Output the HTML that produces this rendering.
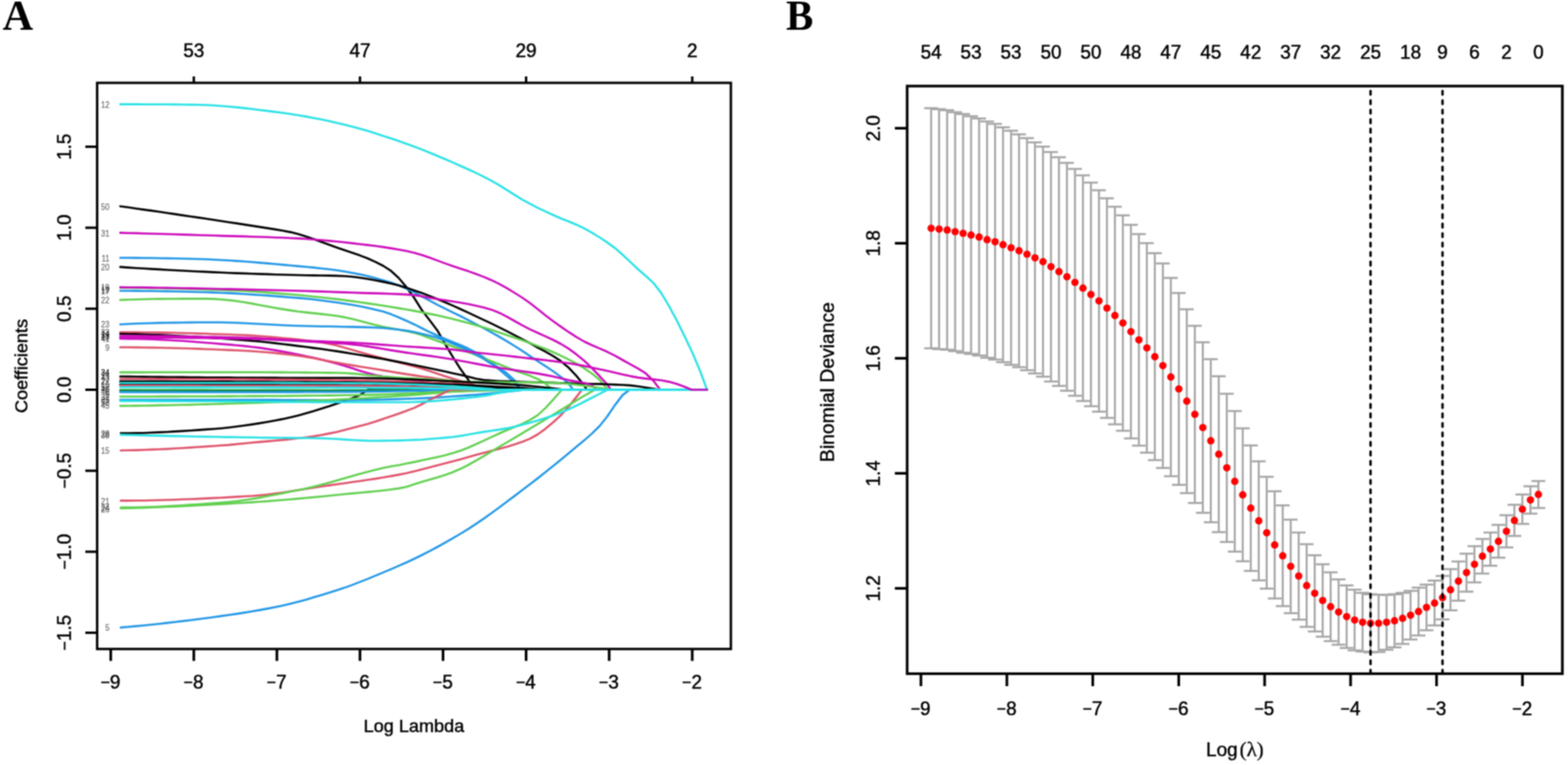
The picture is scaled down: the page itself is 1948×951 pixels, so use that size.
<!DOCTYPE html>
<html lang="en"><head><meta charset="utf-8"><title>LASSO coefficient profiles and cross-validation</title>
<style>html,body{margin:0;padding:0;background:#fff;}body{width:1948px;height:951px;overflow:hidden;}svg{display:block;}</style>
</head><body>
<svg width="1948" height="951" viewBox="0 0 1948 951">
<defs><filter id="soft" x="0" y="0" width="100%" height="100%" color-interpolation-filters="sRGB"><feConvolveMatrix order="3" kernelMatrix="1 2 1 2 4 2 1 2 1" edgeMode="duplicate"/></filter></defs>
<g filter="url(#soft)">
<rect width="1948" height="951" fill="#fff"/>
<text x="3.3" y="37.1" font-family="'Liberation Serif', serif" font-weight="bold" font-size="52.5" fill="#000">A</text>
<text transform="translate(976.6,36.6) scale(0.97,1)" font-family="'Liberation Serif', serif" font-weight="bold" font-size="52.5" fill="#000">B</text>
<defs><clipPath id="cA"><rect x="120.7" y="103" width="787.3" height="703.8"/></clipPath><clipPath id="cB"><rect x="1127" y="107" width="814" height="730.5"/></clipPath></defs>
<g clip-path="url(#cA)" fill="none" stroke-width="2.6" stroke-linejoin="round" stroke-linecap="round">
<path d="M150,538.6 L159.5,538.5 L169.1,538.4 L178.7,538.2 L188.3,537.8 L197.9,537.4 L207.5,537 L217,536.4 L226.6,535.9 L236.2,535.3 L245.8,534.6 L255.4,533.9 L265,533.3 L274.6,532.5 L284.2,531.5 L293.8,530.3 L303.4,529 L313,527.6 L322.6,526.1 L332.2,524.5 L341.8,522.7 L351.4,520.9 L361,518.8 L370.6,516.4 L380.2,513.8 L389.8,511 L399.3,508.1 L408.9,505.1 L418.5,501.8 L428.1,498.3 L437.7,494.9 L447.3,491.1 L456.9,484.6 L457,484.5 L878.4,484.5" stroke="#000000"/>
<path d="M149.4,256.4 L149.9,256.5 L159.5,257.8 L169.1,259.2 L178.7,260.6 L188.3,261.9 L197.9,263.3 L207.5,264.7 L217,266.1 L226.6,267.6 L236.2,269 L245.8,270.4 L255.4,271.8 L265,273.3 L274.6,274.7 L284.2,276.2 L293.8,277.6 L303.4,279.1 L313,280.6 L322.6,282.1 L332.2,283.6 L341.8,285.1 L351.4,286.7 L361,288.6 L370.6,291 L380.2,294 L389.8,297.2 L399.3,300.7 L408.9,304.3 L418.5,307.8 L428.1,311.1 L437.7,314.3 L447.3,317.6 L456.9,321.3 L466.5,325.6 L476.1,330.5 L485.7,336.7 L495.3,345.5 L504.9,356.9 L514.5,370.3 L524.1,385.5 L533.7,398 L543.3,410.7 L552.9,427.5 L562.5,443.6 L572.1,458.8 L581.7,472 L590,484.5 L878.4,484.5" stroke="#000000"/>
<path d="M149.4,289.4 L149.9,289.4 L159.5,289.7 L169.1,289.9 L178.7,290.2 L188.3,290.5 L197.9,290.8 L207.5,291 L217,291.3 L226.6,291.6 L236.2,291.9 L245.8,292.2 L255.4,292.5 L265,292.8 L274.6,293.1 L284.2,293.4 L293.8,293.6 L303.4,293.9 L313,294.2 L322.6,294.5 L332.2,294.8 L341.8,295.2 L351.4,295.5 L361,296 L370.6,296.4 L380.2,297 L389.8,297.7 L399.3,298.5 L408.9,299.4 L418.5,300.3 L428.1,301.3 L437.7,302.4 L447.3,303.5 L456.9,304.6 L466.5,305.8 L476.1,307.1 L485.7,308.6 L495.3,310.2 L504.9,312 L514.5,314.2 L524.1,317.1 L533.7,320.3 L543.3,323.9 L552.9,327.4 L562.5,330.8 L572.1,334 L581.7,337.1 L591.2,340.5 L600.8,344.1 L610.4,348.2 L620,352.9 L629.6,358.2 L639.2,364 L648.8,370 L658.4,376.7 L668,384.2 L677.6,391.9 L687.2,399.3 L696.8,406.1 L706.4,412.7 L716,418.9 L725.6,424.5 L735.2,429 L744.8,433.1 L754.4,437.3 L764,442.1 L773.5,447.5 L783.1,452.9 L792.7,458.1 L802.3,464.2 L811.9,473.5 L820.2,484.5 L878.4,484.5" stroke="#CD0BBC"/>
<path d="M149.4,320.5 L149.9,320.5 L159.5,320.5 L169.1,320.6 L178.7,320.7 L188.3,320.8 L197.9,321 L207.5,321.1 L217,321.3 L226.6,321.5 L236.2,321.8 L245.8,322 L255.4,322.3 L265,322.7 L274.6,323.2 L284.2,323.7 L293.8,324.4 L303.4,325 L313,325.8 L322.6,326.6 L332.2,327.4 L341.8,328.3 L351.4,329.1 L361,330 L370.6,330.9 L380.2,331.7 L389.8,332.6 L399.3,333.7 L408.9,334.8 L418.5,336 L428.1,337.5 L437.7,339.2 L447.3,341.1 L456.9,343.3 L466.5,345.8 L476.1,348.4 L485.7,351.2 L495.3,354.7 L504.9,358.8 L514.5,363.3 L524.1,368.5 L533.7,373.7 L543.3,378.8 L552.9,383.6 L562.5,388.3 L572.1,393 L581.7,397.8 L591.2,402.8 L600.8,407.9 L610.4,413.1 L620,418.5 L629.6,424.1 L639.2,430 L648.8,436.2 L658.4,442.6 L668,449 L677.6,455.1 L687.2,461.5 L696.8,468.5 L706.4,476.8 L712,484.5 L878.4,484.5" stroke="#2297E6"/>
<path d="M149.4,331.9 L149.9,331.9 L159.5,332.6 L169.1,333.2 L178.7,333.8 L188.3,334.4 L197.9,334.9 L207.5,335.5 L217,336 L226.6,336.5 L236.2,337 L245.8,337.5 L255.4,337.9 L265,338.4 L274.6,338.8 L284.2,339.2 L293.8,339.6 L303.4,339.9 L313,340.3 L322.6,340.6 L332.2,340.9 L341.8,341.2 L351.4,341.5 L361,341.8 L370.6,342 L380.2,342.2 L389.8,342.4 L399.3,342.5 L408.9,342.6 L418.5,342.9 L428.1,343.2 L437.7,344 L447.3,345.2 L456.9,346.7 L466.5,348.5 L476.1,350.4 L485.7,352.4 L495.3,354.7 L504.9,357.7 L514.5,360.9 L524.1,364.2 L533.7,367.9 L543.3,371.7 L552.9,375.7 L562.5,379.9 L572.1,384.2 L581.7,388.6 L591.2,393.1 L600.8,397.6 L610.4,402.2 L620,406.9 L629.6,411.7 L639.2,416.6 L648.8,421.6 L658.4,426.7 L668,432 L677.6,437.2 L687.2,442.6 L696.8,448.9 L706.4,457 L716,467.2 L725.6,478.8 L729,484.5 L878.4,484.5" stroke="#000000"/>
<path d="M149.4,357.8 L149.9,357.8 L159.5,357.8 L169.1,357.9 L178.7,358 L188.3,358.1 L197.9,358.3 L207.5,358.5 L217,358.7 L226.6,359 L236.2,359.3 L245.8,359.5 L255.4,359.9 L265,360.2 L274.6,360.5 L284.2,360.9 L293.8,361.2 L303.4,361.7 L313,362.3 L322.6,362.9 L332.2,363.6 L341.8,364.4 L351.4,365.2 L361,366 L370.6,366.8 L380.2,367.7 L389.8,368.7 L399.3,369.7 L408.9,370.8 L418.5,371.9 L428.1,373.1 L437.7,374.4 L447.3,375.7 L456.9,377.1 L466.5,378.5 L476.1,380 L485.7,381.5 L495.3,383.1 L504.9,384.7 L514.5,386.4 L524.1,388.2 L533.7,390.1 L543.3,392.1 L552.9,394.3 L562.5,396.6 L572.1,399 L581.7,401.6 L591.2,404.2 L600.8,407 L610.4,410.1 L620,413.2 L629.6,416.5 L639.2,419.8 L648.8,423.1 L658.4,426.5 L668,430.1 L677.6,433.8 L687.2,437.8 L696.8,442.1 L706.4,446.8 L716,451.9 L725.6,457.6 L735.2,464.2 L744.8,472.1 L754.4,483.4 L755,484.5 L878.4,484.5" stroke="#61D04F"/>
<path d="M149.4,357.1 L149.9,357.1 L159.5,357.2 L169.1,357.3 L178.7,357.4 L188.3,357.6 L197.9,357.7 L207.5,357.9 L217,358 L226.6,358.2 L236.2,358.4 L245.8,358.6 L255.4,358.8 L265,359 L274.6,359.2 L284.2,359.4 L293.8,359.6 L303.4,359.8 L313,360.1 L322.6,360.3 L332.2,360.5 L341.8,360.8 L351.4,361 L361,361.3 L370.6,361.5 L380.2,361.8 L389.8,362.1 L399.3,362.4 L408.9,362.7 L418.5,363.1 L428.1,363.4 L437.7,363.8 L447.3,364.1 L456.9,364.4 L466.5,364.6 L476.1,364.9 L485.7,365.2 L495.3,365.6 L504.9,366.1 L514.5,366.9 L524.1,368.3 L533.7,370.1 L543.3,371.7 L552.9,373.3 L562.5,374.8 L572.1,376.3 L581.7,378 L591.2,380 L600.8,382.2 L610.4,384.9 L620,388.7 L629.6,393.6 L639.2,399 L648.8,404.4 L658.4,409.4 L668,413.8 L677.6,418.1 L687.2,422.5 L696.8,427.5 L706.4,433.4 L716,440.4 L725.6,448.2 L735.2,457.4 L744.8,467.5 L754.4,477.9 L759,484.5 L878.4,484.5" stroke="#CD0BBC"/>
<path d="M149.4,361.5 L149.9,361.5 L159.5,361.5 L169.1,361.6 L178.7,361.7 L188.3,361.8 L197.9,362 L207.5,362.1 L217,362.3 L226.6,362.5 L236.2,362.8 L245.8,363 L255.4,363.3 L265,363.6 L274.6,364 L284.2,364.4 L293.8,364.9 L303.4,365.5 L313,366.1 L322.6,366.7 L332.2,367.4 L341.8,368.1 L351.4,368.9 L361,369.7 L370.6,370.4 L380.2,371.3 L389.8,372.3 L399.3,373.5 L408.9,374.7 L418.5,376 L428.1,377.5 L437.7,379 L447.3,380.7 L456.9,382.7 L466.5,384.9 L476.1,387.3 L485.7,390.6 L495.3,394.5 L504.9,398.8 L514.5,403.2 L524.1,408 L533.7,412.8 L543.3,417.3 L552.9,421.3 L562.5,425.2 L572.1,429 L581.7,433.3 L591.2,438.1 L600.8,444 L610.4,450.7 L620,457.5 L629.6,463.9 L639.2,472.6 L646,484.5 L878.4,484.5" stroke="#2297E6"/>
<path d="M149.4,372.9 L149.9,372.9 L159.5,372.5 L169.1,372.2 L178.7,372 L188.3,371.8 L197.9,371.6 L207.5,371.5 L217,371.5 L226.6,371.4 L236.2,371.4 L245.8,371.4 L255.4,371.4 L265,371.6 L274.6,372.2 L284.2,373.1 L293.8,374.3 L303.4,375.8 L313,377.4 L322.6,379.2 L332.2,381 L341.8,382.7 L351.4,384.4 L361,385.9 L370.6,387.3 L380.2,388.4 L389.8,389.4 L399.3,390.4 L408.9,391.5 L418.5,392.8 L428.1,394.4 L437.7,396.5 L447.3,398.9 L456.9,401.4 L466.5,404 L476.1,406.2 L485.7,408.1 L495.3,409.8 L504.9,411.6 L514.5,413.7 L524.1,416.5 L533.7,420.2 L543.3,423.8 L552.9,427.3 L562.5,430.7 L572.1,434.2 L581.7,437.8 L591.2,441.4 L600.8,445.1 L610.4,449 L620,452.8 L629.6,456.7 L639.2,460.4 L648.8,463.7 L658.4,467.1 L668,471.2 L677.6,476.8 L686,484.5 L878.4,484.5" stroke="#61D04F"/>
<path d="M149.4,403.2 L149.9,403.2 L159.5,402.7 L169.1,402.3 L178.7,402 L188.3,401.7 L197.9,401.4 L207.5,401.2 L217,401.1 L226.6,401 L236.2,400.9 L245.8,400.8 L255.4,400.8 L265,400.8 L274.6,400.8 L284.2,401 L293.8,401.3 L303.4,401.8 L313,402.2 L322.6,402.7 L332.2,403.3 L341.8,403.8 L351.4,404.3 L361,404.7 L370.6,405 L380.2,405.3 L389.8,405.5 L399.3,405.7 L408.9,405.8 L418.5,406 L428.1,406.2 L437.7,406.4 L447.3,406.6 L456.9,406.9 L466.5,407.3 L476.1,407.8 L485.7,408.7 L495.3,409.7 L504.9,411 L514.5,412.7 L524.1,414.9 L533.7,417.3 L543.3,420.1 L552.9,423.4 L562.5,427.2 L572.1,431.4 L581.7,435.9 L591.2,440.8 L600.8,446.2 L610.4,452.3 L620,459.3 L629.6,467.3 L639.2,475.9 L648,484.5 L878.4,484.5" stroke="#2297E6"/>
<path d="M149.4,413 L149.9,413 L159.5,413 L169.1,413.1 L178.7,413.2 L188.3,413.3 L197.9,413.4 L207.5,413.6 L217,413.8 L226.6,414 L236.2,414.3 L245.8,414.6 L255.4,414.8 L265,415.2 L274.6,415.5 L284.2,415.8 L293.8,416.2 L303.4,416.5 L313,417.1 L322.6,417.7 L332.2,418.5 L341.8,419.3 L351.4,420.2 L361,421.1 L370.6,422.1 L380.2,423.2 L389.8,424.4 L399.3,425.8 L408.9,427.4 L418.5,429.6 L428.1,432.2 L437.7,435.1 L447.3,437.8 L456.9,440.4 L466.5,442.9 L476.1,445.5 L485.7,448.1 L495.3,450.6 L504.9,453.1 L514.5,455.6 L524.1,458.2 L533.7,461.2 L543.3,464.4 L552.9,467.7 L562.5,470.8 L572.1,473.6 L581.7,476.4 L591.2,479.2 L600.8,481.9 L610,484.5 L878.4,484.5" stroke="#DF536B"/>
<path d="M149.4,415 L149.9,415 L159.5,415.2 L169.1,415.4 L178.7,415.7 L188.3,416 L197.9,416.4 L207.5,416.8 L217,417.3 L226.6,417.8 L236.2,418.3 L245.8,418.9 L255.4,419.5 L265,420.2 L274.6,420.8 L284.2,421.5 L293.8,422.2 L303.4,422.9 L313,423.6 L322.6,424.5 L332.2,425.5 L341.8,426.6 L351.4,427.7 L361,428.9 L370.6,430.1 L380.2,431.3 L389.8,432.6 L399.3,433.8 L408.9,435.2 L418.5,436.6 L428.1,438.1 L437.7,439.7 L447.3,441.3 L456.9,442.9 L466.5,444.6 L476.1,446.3 L485.7,448.1 L495.3,449.9 L504.9,451.8 L514.5,453.7 L524.1,455.7 L533.7,457.7 L543.3,459.7 L552.9,461.8 L562.5,463.9 L572.1,465.9 L581.7,468.3 L591.2,470.7 L600.8,472.4 L610.4,473.1 L620,473.7 L629.6,474.1 L639.2,474.4 L648.8,474.8 L658.4,475 L668,475.3 L677.6,475.6 L687.2,475.9 L696.8,476.2 L706.4,476.5 L716,476.7 L725.6,476.9 L735.2,477.2 L744.8,477.4 L754.4,477.7 L764,478.1 L773.5,478.5 L783.1,479.1 L792.7,480.2 L802.3,481.7 L811.9,483.4 L818,484.5 L878.4,484.5" stroke="#000000"/>
<path d="M149.4,419.5 L149.9,419.5 L159.5,419.5 L169.1,419.5 L178.7,419.6 L188.3,419.6 L197.9,419.7 L207.5,419.8 L217,419.8 L226.6,419.9 L236.2,420.1 L245.8,420.2 L255.4,420.3 L265,420.4 L274.6,420.6 L284.2,420.7 L293.8,420.9 L303.4,421.1 L313,421.3 L322.6,421.6 L332.2,422 L341.8,422.4 L351.4,422.9 L361,423.4 L370.6,423.9 L380.2,424.4 L389.8,424.9 L399.3,425.4 L408.9,425.9 L418.5,426.6 L428.1,427.3 L437.7,428.1 L447.3,429.2 L456.9,430.6 L466.5,432.1 L476.1,433.7 L485.7,435.4 L495.3,436.9 L504.9,438.4 L514.5,439.7 L524.1,441.1 L533.7,442.4 L543.3,443.8 L552.9,445.3 L562.5,446.8 L572.1,448.5 L581.7,450.3 L591.2,452.1 L600.8,453.9 L610.4,455.7 L620,457.3 L629.6,458.7 L639.2,460.1 L648.8,461.5 L658.4,462.9 L668,464.4 L677.6,466.1 L687.2,468 L696.8,470.3 L706.4,472.6 L716,474.4 L725.6,476 L735.2,478.9 L742,484.5 L878.4,484.5" stroke="#CD0BBC"/>
<path d="M149.4,421 L149.9,421 L159.5,421.1 L169.1,421.2 L178.7,421.5 L188.3,421.8 L197.9,422.2 L207.5,422.7 L217,423.2 L226.6,423.8 L236.2,424.5 L245.8,425.2 L255.4,426 L265,426.7 L274.6,427.6 L284.2,428.4 L293.8,429.2 L303.4,430.1 L313,431.2 L322.6,432.4 L332.2,433.9 L341.8,435.4 L351.4,437.1 L361,438.9 L370.6,440.8 L380.2,442.7 L389.8,444.7 L399.3,447 L408.9,449.5 L418.5,452.1 L428.1,454.8 L437.7,457.8 L447.3,460.9 L456.9,463.8 L466.5,466.2 L476.1,468.1 L485.7,469.4 L495.3,470.5 L504.9,471.6 L514.5,472.8 L524.1,474.3 L533.7,475.8 L543.3,477.4 L552.9,479.1 L562.5,480.9 L572.1,482.8 L580.6,484.5 L878.4,484.5" stroke="#CD0BBC"/>
<path d="M149.4,431.8 L149.9,431.8 L159.5,431.8 L169.1,431.9 L178.7,432 L188.3,432.1 L197.9,432.3 L207.5,432.5 L217,432.8 L226.6,433 L236.2,433.3 L245.8,433.6 L255.4,434 L265,434.3 L274.6,434.7 L284.2,435.1 L293.8,435.5 L303.4,436 L313,436.5 L322.6,437.2 L332.2,438 L341.8,438.9 L351.4,439.9 L361,441 L370.6,442.2 L380.2,443.6 L389.8,445.3 L399.3,447.2 L408.9,449 L418.5,450.8 L428.1,452.5 L437.7,454.1 L447.3,455.7 L456.9,457.3 L466.5,458.8 L476.1,460.4 L485.7,462 L495.3,463.6 L504.9,465.1 L514.5,466.6 L524.1,468 L533.7,469.3 L543.3,470.7 L552.9,472.2 L562.5,474 L572.1,476.2 L581.7,478.8 L591.2,481.7 L600,484.5 L878.4,484.5" stroke="#DF536B"/>
<path d="M149.4,462.9 L149.9,462.9 L159.5,462.9 L169.1,462.9 L178.7,462.9 L188.3,462.8 L197.9,462.8 L207.5,462.8 L217,462.8 L226.6,462.8 L236.2,462.8 L245.8,462.8 L255.4,462.8 L265,462.8 L274.6,462.8 L284.2,462.8 L293.8,462.8 L303.4,462.8 L313,462.8 L322.6,462.8 L332.2,462.8 L341.8,462.9 L351.4,462.9 L361,463 L370.6,463 L380.2,463.1 L389.8,463.2 L399.3,463.3 L408.9,463.4 L418.5,463.5 L428.1,463.8 L437.7,464.4 L447.3,465.3 L456.9,466.3 L466.5,467.3 L476.1,468.2 L485.7,468.9 L495.3,469.5 L504.9,470 L514.5,470.5 L524.1,471 L533.7,471.5 L543.3,472.1 L552.9,472.7 L562.5,473.4 L572.1,474.2 L581.7,474.7 L591.2,474.9 L600.8,475 L610.4,475.1 L620,475.1 L629.6,475.2 L639.2,475.3 L648.8,475.3 L658.4,475.4 L668,475.5 L677.6,475.7 L687.2,475.9 L696.8,476.5 L706.4,477.3 L716,478.3 L725.6,479.4 L735.2,480.8 L744.8,482.2 L754.4,483.6 L760,484.5 L878.4,484.5" stroke="#61D04F"/>
<path d="M149.4,468 L149.9,468 L159.5,468.1 L169.1,468.3 L178.7,468.4 L188.3,468.5 L197.9,468.6 L207.5,468.7 L217,468.8 L226.6,468.9 L236.2,469 L245.8,469.1 L255.4,469.2 L265,469.3 L274.6,469.3 L284.2,469.4 L293.8,469.5 L303.4,469.5 L313,469.6 L322.6,469.6 L332.2,469.6 L341.8,469.6 L351.4,469.7 L361,469.7 L370.6,469.7 L380.2,469.7 L389.8,469.8 L399.3,469.8 L408.9,469.8 L418.5,469.8 L428.1,469.9 L437.7,469.9 L447.3,470 L456.9,470.1 L466.5,470.2 L476.1,470.5 L485.7,470.7 L495.3,471.1 L504.9,471.5 L514.5,471.9 L524.1,472.3 L533.7,472.8 L543.3,473.2 L552.9,473.7 L562.5,474.1 L572.1,474.5 L581.7,475 L591.2,475.4 L600.8,475.9 L610.4,476.4 L620,477 L629.6,477.6 L639.2,478.2 L648.8,478.9 L658.4,479.7 L668,480.7 L677.6,481.7 L687.2,482.9 L696.8,484.1 L700,484.5 L878.4,484.5" stroke="#000000"/>
<path d="M149.4,471 L149.9,471 L159.5,471 L169.1,471 L178.7,471 L188.3,471.1 L197.9,471.1 L207.5,471.1 L217,471.1 L226.6,471.2 L236.2,471.2 L245.8,471.2 L255.4,471.3 L265,471.3 L274.6,471.4 L284.2,471.4 L293.8,471.5 L303.4,471.5 L313,471.6 L322.6,471.6 L332.2,471.7 L341.8,471.7 L351.4,471.8 L361,471.9 L370.6,472 L380.2,472.1 L389.8,472.1 L399.3,472.2 L408.9,472.3 L418.5,472.5 L428.1,472.6 L437.7,472.7 L447.3,472.9 L456.9,473 L466.5,473.2 L476.1,473.5 L485.7,473.7 L495.3,474.1 L504.9,474.4 L514.5,474.8 L524.1,475.2 L533.7,475.7 L543.3,476.1 L552.9,476.6 L562.5,477.1 L572.1,477.8 L581.7,478.5 L591.2,479.3 L600.8,480.2 L610.4,481.2 L620,482.2 L629.6,483.3 L639.2,484.4 L640,484.5 L878.4,484.5" stroke="#DF536B"/>
<path d="M149.4,474 L149.9,474 L159.5,474 L169.1,474 L178.7,474.1 L188.3,474.1 L197.9,474.1 L207.5,474.1 L217,474.2 L226.6,474.2 L236.2,474.2 L245.8,474.3 L255.4,474.3 L265,474.4 L274.6,474.4 L284.2,474.4 L293.8,474.5 L303.4,474.5 L313,474.6 L322.6,474.6 L332.2,474.6 L341.8,474.7 L351.4,474.7 L361,474.8 L370.6,474.9 L380.2,474.9 L389.8,475 L399.3,475 L408.9,475.1 L418.5,475.2 L428.1,475.3 L437.7,475.4 L447.3,475.5 L456.9,475.6 L466.5,475.7 L476.1,475.9 L485.7,476 L495.3,476.2 L504.9,476.5 L514.5,476.7 L524.1,476.9 L533.7,477.2 L543.3,477.5 L552.9,477.8 L562.5,478.1 L572.1,478.4 L581.7,478.8 L591.2,479.2 L600.8,479.7 L610.4,480.2 L620,480.7 L629.6,481.2 L639.2,481.8 L648.8,482.4 L658.4,483 L668,483.7 L677.6,484.3 L680,484.5 L878.4,484.5" stroke="#000000"/>
<path d="M149.4,478 L149.9,478 L159.5,478 L169.1,478 L178.7,478 L188.3,478 L197.9,478 L207.5,478 L217,478 L226.6,478 L236.2,478 L245.8,478 L255.4,478 L265,478 L274.6,478 L284.2,478 L293.8,478 L303.4,478 L313,478 L322.6,478 L332.2,478 L341.8,478 L351.4,478 L361,478 L370.6,478 L380.2,478 L389.8,478 L399.3,478 L408.9,478 L418.5,478 L428.1,478 L437.7,478 L447.3,478 L456.9,478 L466.5,478.1 L476.1,478.2 L485.7,478.3 L495.3,478.5 L504.9,478.6 L514.5,478.8 L524.1,479.1 L533.7,479.3 L543.3,479.6 L552.9,479.8 L562.5,480.1 L572.1,480.3 L581.7,480.7 L591.2,481 L600.8,481.4 L610.4,481.9 L620,482.3 L629.6,482.8 L639.2,483.3 L648.8,483.9 L658.4,484.4 L660,484.5 L878.4,484.5" stroke="#000000"/>
<path d="M149.4,479.3 L149.9,479.3 L159.5,479.3 L169.1,479.3 L178.7,479.3 L188.3,479.4 L197.9,479.4 L207.5,479.4 L217,479.4 L226.6,479.4 L236.2,479.4 L245.8,479.4 L255.4,479.5 L265,479.5 L274.6,479.5 L284.2,479.5 L293.8,479.5 L303.4,479.5 L313,479.5 L322.6,479.5 L332.2,479.5 L341.8,479.5 L351.4,479.5 L361,479.5 L370.6,479.5 L380.2,479.5 L389.8,479.5 L399.3,479.6 L408.9,479.6 L418.5,479.6 L428.1,479.6 L437.7,479.6 L447.3,479.6 L456.9,479.6 L466.5,479.7 L476.1,479.8 L485.7,480 L495.3,480.2 L504.9,480.4 L514.5,480.7 L524.1,480.9 L533.7,481.2 L543.3,481.5 L552.9,481.8 L562.5,482.1 L572.1,482.4 L581.7,482.8 L591.2,483.2 L600.8,483.6 L610.4,484 L620,484.5 L878.4,484.5" stroke="#DF536B"/>
<path d="M149.4,484.8 L149.9,484.8 L159.5,484.8 L169.1,484.8 L178.7,484.8 L188.3,484.9 L197.9,484.9 L207.5,484.9 L217,484.9 L226.6,484.9 L236.2,484.9 L245.8,484.9 L255.4,484.9 L265,485 L274.6,485 L284.2,485 L293.8,485 L303.4,485 L313,485 L322.6,485 L332.2,485.1 L341.8,485.1 L351.4,485.1 L361,485.1 L370.6,485.1 L380.2,485.1 L389.8,485.1 L399.3,485.2 L408.9,485.2 L418.5,485.2 L428.1,485.2 L437.7,485.2 L447.3,485.2 L456.9,485.2 L466.5,485.2 L476.1,485.2 L485.7,485.1 L495.3,485.1 L504.9,485.1 L514.5,485 L524.1,485 L533.7,484.9 L543.3,484.9 L552.9,484.8 L562.5,484.8 L572.1,484.7 L581.7,484.6 L591.2,484.6 L600,484.5 L878.4,484.5" stroke="#61D04F"/>
<path d="M149.4,485.4 L149.9,485.4 L159.5,485.4 L169.1,485.4 L178.7,485.5 L188.3,485.5 L197.9,485.5 L207.5,485.5 L217,485.5 L226.6,485.6 L236.2,485.6 L245.8,485.6 L255.4,485.6 L265,485.6 L274.6,485.6 L284.2,485.6 L293.8,485.6 L303.4,485.6 L313,485.6 L322.6,485.6 L332.2,485.6 L341.8,485.6 L351.4,485.6 L361,485.6 L370.6,485.6 L380.2,485.5 L389.8,485.5 L399.3,485.5 L408.9,485.5 L418.5,485.5 L428.1,485.4 L437.7,485.4 L447.3,485.4 L456.9,485.4 L466.5,485.3 L476.1,485.3 L485.7,485.2 L495.3,485.2 L504.9,485.1 L514.5,485 L524.1,484.9 L533.7,484.8 L543.3,484.7 L552.9,484.6 L560,484.5 L878.4,484.5" stroke="#0f8a3c"/>
<path d="M149.4,487.5 L149.9,487.5 L159.5,487.5 L169.1,487.5 L178.7,487.5 L188.3,487.5 L197.9,487.5 L207.5,487.5 L217,487.5 L226.6,487.5 L236.2,487.5 L245.8,487.5 L255.4,487.5 L265,487.5 L274.6,487.5 L284.2,487.5 L293.8,487.5 L303.4,487.5 L313,487.5 L322.6,487.5 L332.2,487.5 L341.8,487.5 L351.4,487.4 L361,487.4 L370.6,487.4 L380.2,487.3 L389.8,487.3 L399.3,487.3 L408.9,487.2 L418.5,487.2 L428.1,487.1 L437.7,487.1 L447.3,487 L456.9,486.9 L466.5,486.8 L476.1,486.7 L485.7,486.5 L495.3,486.3 L504.9,486.1 L514.5,485.9 L524.1,485.6 L533.7,485.4 L543.3,485.2 L552.9,485.1 L562.5,485 L572.1,484.9 L581.7,484.8 L591.2,484.7 L600.8,484.6 L610.4,484.6 L620,484.5 L878.4,484.5" stroke="#2297E6"/>
<path d="M149.4,493 L149.9,493 L159.5,493 L169.1,493 L178.7,493 L188.3,493 L197.9,492.9 L207.5,492.9 L217,492.9 L226.6,492.8 L236.2,492.8 L245.8,492.8 L255.4,492.7 L265,492.7 L274.6,492.6 L284.2,492.6 L293.8,492.5 L303.4,492.5 L313,492.4 L322.6,492.4 L332.2,492.3 L341.8,492.2 L351.4,492.2 L361,492.1 L370.6,492 L380.2,491.9 L389.8,491.8 L399.3,491.7 L408.9,491.6 L418.5,491.5 L428.1,491.3 L437.7,491.2 L447.3,491 L456.9,490.9 L466.5,490.6 L476.1,490.3 L485.7,490 L495.3,489.6 L504.9,489.2 L514.5,488.8 L524.1,488.4 L533.7,488 L543.3,487.6 L552.9,487.3 L562.5,486.9 L572.1,486.6 L581.7,486.3 L591.2,486 L600.8,485.7 L610.4,485.4 L620,485.1 L629.6,484.8 L639.2,484.5 L640,484.5 L878.4,484.5" stroke="#61D04F"/>
<path d="M149.4,497 L149.9,497 L159.5,497 L169.1,497 L178.7,497 L188.3,497 L197.9,497 L207.5,497 L217,497 L226.6,497 L236.2,497 L245.8,497 L255.4,497 L265,497 L274.6,497 L284.2,497 L293.8,497 L303.4,497 L313,497 L322.6,497 L332.2,497.1 L341.8,497.1 L351.4,497.2 L361,497.2 L370.6,497.3 L380.2,497.4 L389.8,497.4 L399.3,497.5 L408.9,497.5 L418.5,497.5 L428.1,497.5 L437.7,497.4 L447.3,497.3 L456.9,497.1 L466.5,496.9 L476.1,496.7 L485.7,496.4 L495.3,496.1 L504.9,495.8 L514.5,495.5 L524.1,495.1 L533.7,494.6 L543.3,494.1 L552.9,493.5 L562.5,492.8 L572.1,492.1 L581.7,491.4 L591.2,490.7 L600.8,489.9 L610.4,489.1 L620,488.1 L629.6,487 L639.2,485.9 L648.8,484.7 L650,484.5 L878.4,484.5" stroke="#2297E6"/>
<path d="M149.4,504.6 L149.9,504.6 L159.5,504.5 L169.1,504.4 L178.7,504.2 L188.3,504.1 L197.9,503.9 L207.5,503.7 L217,503.5 L226.6,503.3 L236.2,503.1 L245.8,502.8 L255.4,502.6 L265,502.3 L274.6,502.1 L284.2,501.8 L293.8,501.5 L303.4,501.2 L313,500.9 L322.6,500.6 L332.2,500.3 L341.8,500 L351.4,499.6 L361,499.3 L370.6,498.9 L380.2,498.5 L389.8,498.1 L399.3,497.7 L408.9,497.2 L418.5,496.8 L428.1,496.3 L437.7,495.8 L447.3,495.2 L456.9,494.7 L466.5,494.1 L476.1,493.5 L485.7,492.9 L495.3,492.3 L504.9,491.7 L514.5,490.9 L524.1,490.1 L533.7,489.3 L543.3,488.4 L552.9,487.4 L562.5,486.5 L572.1,485.4 L580,484.5 L878.4,484.5" stroke="#61D04F"/>
<path d="M150,560 L159.5,559.8 L169.1,559.6 L178.7,559.3 L188.3,558.9 L197.9,558.5 L207.5,558.1 L217,557.5 L226.6,557 L236.2,556.4 L245.8,555.8 L255.4,555.1 L265,554.5 L274.6,553.8 L284.2,553.1 L293.8,552.1 L303.4,551.2 L313,550.3 L322.6,549.4 L332.2,548.6 L341.8,547.8 L351.4,546.9 L361,545.9 L370.6,544.8 L380.2,543.7 L389.8,542.4 L399.3,540.8 L408.9,538.9 L418.5,536.9 L428.1,534.6 L437.7,532.1 L447.3,529.6 L456.9,527 L466.5,523.9 L476.1,520.7 L485.7,517.5 L495.3,514.2 L504.9,510.7 L514.5,507.1 L524.1,502.5 L533.7,497.1 L543.3,492.5 L552.9,487.9 L559,484.5 L878.4,484.5" stroke="#DF536B"/>
<path d="M150,622.4 L159.5,622.4 L169.1,622.3 L178.7,622.2 L188.3,622 L197.9,621.8 L207.5,621.5 L217,621.2 L226.6,620.8 L236.2,620.5 L245.8,620.1 L255.4,619.6 L265,619.1 L274.6,618.7 L284.2,618.1 L293.8,617.6 L303.4,617 L313,616.5 L322.6,615.7 L332.2,614.7 L341.8,613.5 L351.4,612.2 L361,610.7 L370.6,609.2 L380.2,607.7 L389.8,606.2 L399.3,604.8 L408.9,603.4 L418.5,602 L428.1,600.7 L437.7,599.3 L447.3,598 L456.9,596.5 L466.5,595.1 L476.1,593.5 L485.7,591.9 L495.3,590.1 L504.9,588.2 L514.5,585.9 L524.1,583.5 L533.7,581.1 L543.3,578.6 L552.9,576.1 L562.5,573.5 L572.1,570.9 L581.7,568.2 L591.2,565.5 L600.8,562.9 L610.4,560.4 L620,558 L629.6,555.5 L639.2,552.6 L648.8,549.3 L658.4,545.4 L668,540 L677.6,533.1 L687.2,525 L696.8,516.2 L706.4,505.6 L716,493.6 L723,484.5 L878.4,484.5" stroke="#DF536B"/>
<path d="M150,630.9 L159.5,630.9 L169.1,630.7 L178.7,630.5 L188.3,630.2 L197.9,629.8 L207.5,629.3 L217,628.8 L226.6,628.3 L236.2,627.6 L245.8,627 L255.4,626.3 L265,625.6 L274.6,624.8 L284.2,624 L293.8,623 L303.4,621.7 L313,620.2 L322.6,618.6 L332.2,616.8 L341.8,615 L351.4,613.1 L361,611.1 L370.6,609.2 L380.2,607.2 L389.8,604.9 L399.3,602.5 L408.9,599.9 L418.5,597.2 L428.1,594.5 L437.7,591.8 L447.3,589.1 L456.9,586.5 L466.5,584.1 L476.1,581.8 L485.7,579.8 L495.3,578.2 L504.9,576.3 L514.5,574.4 L524.1,572.3 L533.7,570.3 L543.3,568.2 L552.9,565.9 L562.5,563.3 L572.1,560.2 L581.7,556.5 L591.2,552.3 L600.8,547.9 L610.4,543.4 L620,539 L629.6,534.7 L639.2,530.8 L648.8,526.9 L658.4,522.2 L668,516.1 L677.6,507.4 L687.2,496.9 L696.8,486 L698,484.5 L878.4,484.5" stroke="#61D04F"/>
<path d="M150,631.9 L159.5,631.7 L169.1,631.4 L178.7,631.1 L188.3,630.8 L197.9,630.4 L207.5,630 L217,629.6 L226.6,629.2 L236.2,628.7 L245.8,628.2 L255.4,627.7 L265,627.2 L274.6,626.6 L284.2,626.1 L293.8,625.5 L303.4,625 L313,624.4 L322.6,623.7 L332.2,623.1 L341.8,622.3 L351.4,621.5 L361,620.7 L370.6,619.9 L380.2,619 L389.8,618.1 L399.3,617.2 L408.9,616.2 L418.5,615.3 L428.1,614.3 L437.7,613.4 L447.3,612.5 L456.9,611.6 L466.5,610.7 L476.1,609.7 L485.7,608.5 L495.3,607.1 L504.9,605.2 L514.5,602.1 L524.1,599.1 L533.7,596.3 L543.3,593.5 L552.9,590.4 L562.5,587 L572.1,582.8 L581.7,578 L591.2,572.7 L600.8,567.1 L610.4,561.3 L620,555.6 L629.6,550 L639.2,544.4 L648.8,538.7 L658.4,532.9 L668,527.1 L677.6,521.3 L687.2,515.5 L696.8,509.7 L706.4,503.8 L716,497.9 L725.6,492.2 L735.2,486.6 L739,484.5 L878.4,484.5" stroke="#61D04F"/>
<path d="M150,780.1 L159.5,779.3 L169.1,778.4 L178.7,777.5 L188.3,776.5 L197.9,775.5 L207.5,774.4 L217,773.3 L226.6,772.1 L236.2,771 L245.8,769.7 L255.4,768.5 L265,767.2 L274.6,765.9 L284.2,764.5 L293.8,763.1 L303.4,761.6 L313,760 L322.6,758.4 L332.2,756.6 L341.8,754.7 L351.4,752.7 L361,750.4 L370.6,748 L380.2,745.4 L389.8,742.6 L399.3,739.8 L408.9,736.8 L418.5,733.8 L428.1,730.6 L437.7,727.1 L447.3,723.4 L456.9,719.6 L466.5,715.6 L476.1,711.6 L485.7,707.6 L495.3,703.4 L504.9,699.2 L514.5,694.7 L524.1,690 L533.7,685.1 L543.3,680 L552.9,674.7 L562.5,669.2 L572.1,663.5 L581.7,657.6 L591.2,651.3 L600.8,644.8 L610.4,638 L620,631 L629.6,623.8 L639.2,616.6 L648.8,609.3 L658.4,602 L668,594.6 L677.6,587 L687.2,579.3 L696.8,571.4 L706.4,563.4 L716,555.5 L725.6,547.6 L735.2,539.1 L744.8,529.7 L754.4,517.8 L764,503.6 L773.5,491.1 L782.3,484.5 L878.4,484.5" stroke="#2297E6"/>
<path d="M149.4,129.6 L149.9,129.6 L159.5,129.6 L169.1,129.6 L178.7,129.7 L188.3,129.7 L197.9,129.8 L207.5,129.8 L217,129.9 L226.6,130 L236.2,130.1 L245.8,130.2 L255.4,130.5 L265,131 L274.6,131.7 L284.2,132.5 L293.8,133.4 L303.4,134.4 L313,135.5 L322.6,136.7 L332.2,137.9 L341.8,139.1 L351.4,140.3 L361,141.7 L370.6,143.2 L380.2,144.9 L389.8,146.7 L399.3,148.6 L408.9,150.6 L418.5,152.7 L428.1,155 L437.7,157.4 L447.3,160 L456.9,162.8 L466.5,165.8 L476.1,168.9 L485.7,172.1 L495.3,175.3 L504.9,178.7 L514.5,182.2 L524.1,185.9 L533.7,189.7 L543.3,193.7 L552.9,197.8 L562.5,201.9 L572.1,206.2 L581.7,210.5 L591.2,214.9 L600.8,219.6 L610.4,224.6 L620,230.1 L629.6,236.1 L639.2,242.2 L648.8,248.1 L658.4,253.4 L668,258.3 L677.6,262.9 L687.2,267.3 L696.8,271.5 L706.4,275.3 L716,279.2 L725.6,283.9 L735.2,289.2 L744.8,295 L754.4,301.4 L764,308.4 L773.5,316.8 L783.1,325.6 L792.7,334.7 L802.3,343 L811.9,351.9 L821.5,364.4 L831.1,380.3 L840.7,398.2 L850.3,417.6 L859.9,437.7 L869.5,460.5 L878.4,484.5" stroke="#28E2E5"/>
<path d="M149.4,476 L149.9,476 L159.5,476 L169.1,476 L178.7,476 L188.3,476 L197.9,476 L207.5,476 L217,476 L226.6,476 L236.2,476 L245.8,476 L255.4,476 L265,476 L274.6,476 L284.2,476 L293.8,476 L303.4,476 L313,476 L322.6,476 L332.2,476 L341.8,476 L351.4,476.1 L361,476.1 L370.6,476.1 L380.2,476.2 L389.8,476.2 L399.3,476.2 L408.9,476.3 L418.5,476.3 L428.1,476.4 L437.7,476.4 L447.3,476.5 L456.9,476.6 L466.5,476.7 L476.1,476.9 L485.7,477.1 L495.3,477.4 L504.9,477.7 L514.5,478 L524.1,478.4 L533.7,478.8 L543.3,479.2 L552.9,479.7 L562.5,480.1 L572.1,480.7 L581.7,481.3 L591.2,482 L600.8,482.8 L610.4,483.6 L620,484.5 L878.4,484.5" stroke="#28E2E5"/>
<path d="M149.4,481.3 L149.9,481.3 L159.5,481.3 L169.1,481.3 L178.7,481.3 L188.3,481.3 L197.9,481.3 L207.5,481.3 L217,481.4 L226.6,481.4 L236.2,481.4 L245.8,481.4 L255.4,481.4 L265,481.4 L274.6,481.5 L284.2,481.5 L293.8,481.5 L303.4,481.5 L313,481.5 L322.6,481.5 L332.2,481.6 L341.8,481.6 L351.4,481.6 L361,481.6 L370.6,481.7 L380.2,481.7 L389.8,481.7 L399.3,481.8 L408.9,481.8 L418.5,481.9 L428.1,481.9 L437.7,481.9 L447.3,482 L456.9,482 L466.5,482.1 L476.1,482.1 L485.7,482.2 L495.3,482.3 L504.9,482.3 L514.5,482.4 L524.1,482.5 L533.7,482.6 L543.3,482.8 L552.9,482.9 L562.5,483 L572.1,483.3 L581.7,483.7 L591.2,484.1 L600,484.5 L878.4,484.5" stroke="#28E2E5"/>
<path d="M149.4,498.5 L149.9,498.5 L159.5,498.5 L169.1,498.5 L178.7,498.5 L188.3,498.6 L197.9,498.6 L207.5,498.6 L217,498.6 L226.6,498.7 L236.2,498.7 L245.8,498.8 L255.4,498.8 L265,498.8 L274.6,498.9 L284.2,498.9 L293.8,499 L303.4,499 L313,499.1 L322.6,499.2 L332.2,499.3 L341.8,499.4 L351.4,499.5 L361,499.6 L370.6,499.7 L380.2,499.8 L389.8,499.9 L399.3,499.9 L408.9,500 L418.5,500 L428.1,500 L437.7,500 L447.3,500 L456.9,500 L466.5,500 L476.1,500 L485.7,500 L495.3,500 L504.9,500 L514.5,499.8 L524.1,499.4 L533.7,498.9 L543.3,498.2 L552.9,497.4 L562.5,496.5 L572.1,495.6 L581.7,494.5 L591.2,493.4 L600.8,492.3 L610.4,490.6 L620,488.5 L629.6,486.9 L639.2,485.6 L648.8,484.6 L650,484.5 L878.4,484.5" stroke="#28E2E5"/>
<path d="M150,540.4 L159.5,540.7 L169.1,540.9 L178.7,541.2 L188.3,541.4 L197.9,541.6 L207.5,541.9 L217,542.1 L226.6,542.3 L236.2,542.5 L245.8,542.7 L255.4,542.9 L265,543 L274.6,543.2 L284.2,543.4 L293.8,543.5 L303.4,543.7 L313,543.8 L322.6,544 L332.2,544.1 L341.8,544.2 L351.4,544.3 L361,544.4 L370.6,544.5 L380.2,544.5 L389.8,544.7 L399.3,544.9 L408.9,545.3 L418.5,545.8 L428.1,546.4 L437.7,547 L447.3,547.5 L456.9,547.9 L466.5,548 L476.1,547.9 L485.7,547.8 L495.3,547.6 L504.9,547.3 L514.5,546.9 L524.1,546.5 L533.7,545.8 L543.3,545 L552.9,544.1 L562.5,543.2 L572.1,541.9 L581.7,540.2 L591.2,538.5 L600.8,536.9 L610.4,535.5 L620,534.1 L629.6,532.4 L639.2,530.4 L648.8,528.1 L658.4,525.5 L668,522.7 L677.6,519.7 L687.2,516.4 L696.8,512.9 L706.4,508.8 L716,504.3 L725.6,499.5 L735.2,494.5 L744.8,489.6 L754.4,484.8 L755,484.5 L878.4,484.5" stroke="#28E2E5"/>
<path d="M149.4,417.5 L149.9,417.5 L159.5,417.5 L169.1,417.5 L178.7,417.6 L188.3,417.7 L197.9,417.8 L207.5,417.9 L217,418 L226.6,418.2 L236.2,418.3 L245.8,418.5 L255.4,418.7 L265,418.9 L274.6,419.1 L284.2,419.3 L293.8,419.6 L303.4,419.8 L313,420.1 L322.6,420.6 L332.2,421.1 L341.8,421.6 L351.4,422.2 L361,422.7 L370.6,423.3 L380.2,423.7 L389.8,424.1 L399.3,424.4 L408.9,424.7 L418.5,425.1 L428.1,425.5 L437.7,425.9 L447.3,426.5 L456.9,427.1 L466.5,427.9 L476.1,428.6 L485.7,429.3 L495.3,430 L504.9,430.7 L514.5,431.3 L524.1,431.9 L533.7,432.5 L543.3,433.1 L552.9,433.8 L562.5,434.6 L572.1,435.8 L581.7,437.1 L591.2,438.2 L600.8,439.2 L610.4,440.3 L620,441.3 L629.6,442.3 L639.2,443.4 L648.8,444.5 L658.4,445.6 L668,446.6 L677.6,447.8 L687.2,448.9 L696.8,450.2 L706.4,451.5 L716,453.1 L725.6,454.9 L735.2,456.9 L744.8,458.9 L754.4,461 L764,463.3 L773.5,465.5 L783.1,467.6 L792.7,469.4 L802.3,470.6 L811.9,471.6 L821.5,472.8 L831.1,474.6 L840.7,477.3 L850.3,480.8 L859.3,484.5 L878.4,484.5" stroke="#CD0BBC"/>
</g>
<g font-family="'Liberation Sans', sans-serif" font-size="11.8" fill="#000" fill-opacity="0.55" stroke="#000" stroke-opacity="0.3" stroke-width="0.4" text-anchor="end">
<text transform="translate(136,133.8) scale(0.8,1)">12</text>
<text transform="translate(136,260.6) scale(0.8,1)">50</text>
<text transform="translate(136,293.6) scale(0.8,1)">31</text>
<text transform="translate(136,324.7) scale(0.8,1)">11</text>
<text transform="translate(136,336.1) scale(0.8,1)">20</text>
<text transform="translate(136,361.3) scale(0.8,1)">19</text>
<text transform="translate(136,365.7) scale(0.8,1)">17</text>
<text transform="translate(136,377.1) scale(0.8,1)">22</text>
<text transform="translate(136,407.4) scale(0.8,1)">23</text>
<text transform="translate(136,417.2) scale(0.8,1)">33</text>
<text transform="translate(136,419.2) scale(0.8,1)">14</text>
<text transform="translate(136,436) scale(0.8,1)">9</text>
<text transform="translate(136,467.1) scale(0.8,1)">34</text>
<text transform="translate(136,542.8) scale(0.8,1)">28</text>
<text transform="translate(136,564.2) scale(0.8,1)">15</text>
<text transform="translate(136,626.6) scale(0.8,1)">21</text>
<text transform="translate(136,635.1) scale(0.8,1)">24</text>
<text transform="translate(136,784.3) scale(0.8,1)">5</text>
<text transform="translate(136,421.2) scale(0.8,1)">33</text>
<text transform="translate(136,423.2) scale(0.8,1)">13</text>
<text transform="translate(136,425.2) scale(0.8,1)">41</text>
<text transform="translate(136,467.2) scale(0.8,1)">34</text>
<text transform="translate(136,470.2) scale(0.8,1)">14</text>
<text transform="translate(136,474.2) scale(0.8,1)">43</text>
<text transform="translate(136,478.2) scale(0.8,1)">27</text>
<text transform="translate(136,482.2) scale(0.8,1)">10</text>
<text transform="translate(136,485.2) scale(0.8,1)">52</text>
<text transform="translate(136,488.2) scale(0.8,1)">40</text>
<text transform="translate(136,491.2) scale(0.8,1)">46</text>
<text transform="translate(136,494.2) scale(0.8,1)">6</text>
<text transform="translate(136,498.2) scale(0.8,1)">37</text>
<text transform="translate(136,501.2) scale(0.8,1)">39</text>
<text transform="translate(136,504.2) scale(0.8,1)">53</text>
<text transform="translate(136,508.2) scale(0.8,1)">45</text>
<text transform="translate(136,545.2) scale(0.8,1)">38</text>
<text transform="translate(136,637.2) scale(0.8,1)">26</text>
<text transform="translate(136,364.2) scale(0.8,1)">19</text>
</g>
<g stroke="#000" stroke-width="3" fill="none" stroke-linecap="butt">
<rect x="120.7" y="103" width="787.3" height="703.8"/>
<line x1="137.6" y1="806.8" x2="137.6" y2="821.6" stroke-width="3.3"/>
<line x1="240.8" y1="806.8" x2="240.8" y2="821.6" stroke-width="3.3"/>
<line x1="344" y1="806.8" x2="344" y2="821.6" stroke-width="3.3"/>
<line x1="447.2" y1="806.8" x2="447.2" y2="821.6" stroke-width="3.3"/>
<line x1="550.4" y1="806.8" x2="550.4" y2="821.6" stroke-width="3.3"/>
<line x1="653.6" y1="806.8" x2="653.6" y2="821.6" stroke-width="3.3"/>
<line x1="756.8" y1="806.8" x2="756.8" y2="821.6" stroke-width="3.3"/>
<line x1="860" y1="806.8" x2="860" y2="821.6" stroke-width="3.3"/>
<line x1="240.8" y1="103" x2="240.8" y2="95"/>
<line x1="447.2" y1="103" x2="447.2" y2="95"/>
<line x1="653.6" y1="103" x2="653.6" y2="95"/>
<line x1="860" y1="103" x2="860" y2="95"/>
<line x1="106" y1="786.6" x2="120.7" y2="786.6"/>
<line x1="106" y1="685.9" x2="120.7" y2="685.9"/>
<line x1="106" y1="585.2" x2="120.7" y2="585.2"/>
<line x1="106" y1="484.5" x2="120.7" y2="484.5"/>
<line x1="106" y1="383.8" x2="120.7" y2="383.8"/>
<line x1="106" y1="283.1" x2="120.7" y2="283.1"/>
<line x1="106" y1="182.4" x2="120.7" y2="182.4"/>
</g>
<g font-family="'Liberation Sans', sans-serif" font-size="23.5" fill="#000" stroke="#000" stroke-width="0.5" text-anchor="middle">
<text x="137.3" y="856"><tspan font-size="20" dy="-1.1">&#8722;</tspan><tspan dy="1.1">9</tspan></text>
<text x="240.5" y="856"><tspan font-size="20" dy="-1.1">&#8722;</tspan><tspan dy="1.1">8</tspan></text>
<text x="343.7" y="856"><tspan font-size="20" dy="-1.1">&#8722;</tspan><tspan dy="1.1">7</tspan></text>
<text x="446.9" y="856"><tspan font-size="20" dy="-1.1">&#8722;</tspan><tspan dy="1.1">6</tspan></text>
<text x="550.1" y="856"><tspan font-size="20" dy="-1.1">&#8722;</tspan><tspan dy="1.1">5</tspan></text>
<text x="653.3" y="856"><tspan font-size="20" dy="-1.1">&#8722;</tspan><tspan dy="1.1">4</tspan></text>
<text x="756.5" y="856"><tspan font-size="20" dy="-1.1">&#8722;</tspan><tspan dy="1.1">3</tspan></text>
<text x="859.7" y="856"><tspan font-size="20" dy="-1.1">&#8722;</tspan><tspan dy="1.1">2</tspan></text>
<text x="240.8" y="71.2">53</text>
<text x="447.2" y="71.2">47</text>
<text x="653.6" y="71.2">29</text>
<text x="860" y="71.2">2</text>
<text transform="translate(87.8,786.6) rotate(-90)" x="0" y="0"><tspan font-size="20" dy="-1.1">&#8722;</tspan><tspan dy="1.1">1.5</tspan></text>
<text transform="translate(87.8,685.9) rotate(-90)" x="0" y="0"><tspan font-size="20" dy="-1.1">&#8722;</tspan><tspan dy="1.1">1.0</tspan></text>
<text transform="translate(87.8,585.2) rotate(-90)" x="0" y="0"><tspan font-size="20" dy="-1.1">&#8722;</tspan><tspan dy="1.1">0.5</tspan></text>
<text transform="translate(87.8,484.5) rotate(-90)" x="0" y="0">0.0</text>
<text transform="translate(87.8,383.8) rotate(-90)" x="0" y="0">0.5</text>
<text transform="translate(87.8,283.1) rotate(-90)" x="0" y="0">1.0</text>
<text transform="translate(87.8,182.4) rotate(-90)" x="0" y="0">1.5</text>
</g>
<text x="514.3" y="910.1" font-family="'Liberation Sans', sans-serif" font-size="22.5" text-anchor="middle" fill="#000" stroke="#000" stroke-width="0.5">Log Lambda</text>
<text transform="translate(33.8,455) rotate(-90)" font-family="'Liberation Sans', sans-serif" font-size="22.5" text-anchor="middle" fill="#000" stroke="#000" stroke-width="0.5">Coefficients</text>
<g clip-path="url(#cB)">
<g stroke="#A6A6A6" stroke-width="2.5" fill="none">
<path d="M1156.8,134.5 V433.1 M1148.2,134.5 H1165.4 M1148.2,433.1 H1165.4"/>
<path d="M1166.7,135.8 V433.9 M1158.1,135.8 H1175.3 M1158.1,433.9 H1175.3"/>
<path d="M1176.7,137.1 V434.7 M1168.1,137.1 H1185.3 M1168.1,434.7 H1185.3"/>
<path d="M1186.6,139.4 V436.6 M1178,139.4 H1195.2 M1178,436.6 H1195.2"/>
<path d="M1196.5,141.8 V438.4 M1187.9,141.8 H1205.1 M1187.9,438.4 H1205.1"/>
<path d="M1206.4,144.4 V440 M1197.8,144.4 H1215 M1197.8,440 H1215"/>
<path d="M1216.4,147.3 V442.1 M1207.8,147.3 H1225 M1207.8,442.1 H1225"/>
<path d="M1226.3,151 V444.8 M1217.7,151 H1234.9 M1217.7,444.8 H1234.9"/>
<path d="M1236.2,154.1 V447.1 M1227.6,154.1 H1244.8 M1227.6,447.1 H1244.8"/>
<path d="M1246.1,158.2 V450.2 M1237.5,158.2 H1254.7 M1237.5,450.2 H1254.7"/>
<path d="M1256.1,162.6 V453.4 M1247.5,162.6 H1264.7 M1247.5,453.4 H1264.7"/>
<path d="M1266,166.9 V456.5 M1257.4,166.9 H1274.6 M1257.4,456.5 H1274.6"/>
<path d="M1275.9,171.8 V460.2 M1267.3,171.8 H1284.5 M1267.3,460.2 H1284.5"/>
<path d="M1285.8,177 V464.2 M1277.2,177 H1294.4 M1277.2,464.2 H1294.4"/>
<path d="M1295.8,182.3 V468.3 M1287.2,182.3 H1304.4 M1287.2,468.3 H1304.4"/>
<path d="M1305.7,189 V474.2 M1297.1,189 H1314.3 M1297.1,474.2 H1314.3"/>
<path d="M1315.6,195.6 V479.8 M1307,195.6 H1324.2 M1307,479.8 H1324.2"/>
<path d="M1325.5,202.4 V485.8 M1316.9,202.4 H1334.1 M1316.9,485.8 H1334.1"/>
<path d="M1335.5,210 V492 M1326.9,210 H1344.1 M1326.9,492 H1344.1"/>
<path d="M1345.4,217.9 V498.5 M1336.8,217.9 H1354 M1336.8,498.5 H1354"/>
<path d="M1355.3,227.1 V505.1 M1346.7,227.1 H1363.9 M1346.7,505.1 H1363.9"/>
<path d="M1365.3,236.4 V511.8 M1356.7,236.4 H1373.9 M1356.7,511.8 H1373.9"/>
<path d="M1375.2,246.5 V519.5 M1366.6,246.5 H1383.8 M1366.6,519.5 H1383.8"/>
<path d="M1385.1,257 V527.4 M1376.5,257 H1393.7 M1376.5,527.4 H1393.7"/>
<path d="M1395,267.7 V535.5 M1386.4,267.7 H1403.6 M1386.4,535.5 H1403.6"/>
<path d="M1405,279.6 V545 M1396.4,279.6 H1413.6 M1396.4,545 H1413.6"/>
<path d="M1414.9,291.1 V554.1 M1406.3,291.1 H1423.5 M1406.3,554.1 H1423.5"/>
<path d="M1424.8,302.2 V562.8 M1416.2,302.2 H1433.4 M1416.2,562.8 H1433.4"/>
<path d="M1434.7,314.7 V572.1 M1426.1,314.7 H1443.3 M1426.1,572.1 H1443.3"/>
<path d="M1444.7,327.5 V581.7 M1436.1,327.5 H1453.3 M1436.1,581.7 H1453.3"/>
<path d="M1454.6,345.5 V591.9 M1446,345.5 H1463.2 M1446,591.9 H1463.2"/>
<path d="M1464.5,364.3 V602.7 M1455.9,364.3 H1473.1 M1455.9,602.7 H1473.1"/>
<path d="M1474.4,384.4 V613 M1465.8,384.4 H1483 M1465.8,613 H1483"/>
<path d="M1484.4,405 V625.2 M1475.8,405 H1493 M1475.8,625.2 H1493"/>
<path d="M1494.3,425.6 V637.4 M1485.7,425.6 H1502.9 M1485.7,637.4 H1502.9"/>
<path d="M1504.2,446.5 V649.3 M1495.6,446.5 H1512.8 M1495.6,649.3 H1512.8"/>
<path d="M1514.1,467.8 V661.6 M1505.5,467.8 H1522.7 M1505.5,661.6 H1522.7"/>
<path d="M1524.1,489.4 V673.8 M1515.5,489.4 H1532.7 M1515.5,673.8 H1532.7"/>
<path d="M1534,511 V685.8 M1525.4,511 H1542.6 M1525.4,685.8 H1542.6"/>
<path d="M1543.9,532.6 V697.8 M1535.3,532.6 H1552.5 M1535.3,697.8 H1552.5"/>
<path d="M1553.9,553.7 V709.7 M1545.3,553.7 H1562.5 M1545.3,709.7 H1562.5"/>
<path d="M1563.8,573.4 V721.4 M1555.2,573.4 H1572.4 M1555.2,721.4 H1572.4"/>
<path d="M1573.7,592.8 V731.8 M1565.1,592.8 H1582.3 M1565.1,731.8 H1582.3"/>
<path d="M1583.6,610.8 V744 M1575,610.8 H1592.2 M1575,744 H1592.2"/>
<path d="M1593.6,628.3 V753.5 M1585,628.3 H1602.2 M1585,753.5 H1602.2"/>
<path d="M1603.5,645.9 V762.3 M1594.9,645.9 H1612.1 M1594.9,762.3 H1612.1"/>
<path d="M1613.4,662 V770.2 M1604.8,662 H1622 M1604.8,770.2 H1622"/>
<path d="M1623.3,676.6 V779.2 M1614.7,676.6 H1631.9 M1614.7,779.2 H1631.9"/>
<path d="M1633.3,690.2 V785 M1624.7,690.2 H1641.9 M1624.7,785 H1641.9"/>
<path d="M1643.2,701.5 V791.5 M1634.6,701.5 H1651.8 M1634.6,791.5 H1651.8"/>
<path d="M1653.1,711.4 V797 M1644.5,711.4 H1661.7 M1644.5,797 H1661.7"/>
<path d="M1663,720.2 V801.4 M1654.4,720.2 H1671.6 M1654.4,801.4 H1671.6"/>
<path d="M1673,727.7 V805.5 M1664.4,727.7 H1681.6 M1664.4,805.5 H1681.6"/>
<path d="M1682.9,733 V808.6 M1674.3,733 H1691.5 M1674.3,808.6 H1691.5"/>
<path d="M1692.8,737.1 V810.1 M1684.2,737.1 H1701.4 M1684.2,810.1 H1701.4"/>
<path d="M1702.7,738.7 V810.9 M1694.1,738.7 H1711.3 M1694.1,810.9 H1711.3"/>
<path d="M1712.7,739.2 V810.4 M1704.1,739.2 H1721.3 M1704.1,810.4 H1721.3"/>
<path d="M1722.6,739.5 V807.7 M1714,739.5 H1731.2 M1714,807.7 H1731.2"/>
<path d="M1732.5,738.7 V804.7 M1723.9,738.7 H1741.1 M1723.9,804.7 H1741.1"/>
<path d="M1742.5,737 V800.4 M1733.9,737 H1751.1 M1733.9,800.4 H1751.1"/>
<path d="M1752.4,734.5 V795.1 M1743.8,734.5 H1761 M1743.8,795.1 H1761"/>
<path d="M1762.3,730.4 V790 M1753.7,730.4 H1770.9 M1753.7,790 H1770.9"/>
<path d="M1772.2,726.7 V783.5 M1763.6,726.7 H1780.8 M1763.6,783.5 H1780.8"/>
<path d="M1782.2,721.8 V777.6 M1773.6,721.8 H1790.8 M1773.6,777.6 H1790.8"/>
<path d="M1792.1,716 V770 M1783.5,716 H1800.7 M1783.5,770 H1800.7"/>
<path d="M1802,707.6 V758.8 M1793.4,707.6 H1810.6 M1793.4,758.8 H1810.6"/>
<path d="M1811.9,698 V746.8 M1803.3,698 H1820.5 M1803.3,746.8 H1820.5"/>
<path d="M1821.9,688.2 V735.4 M1813.3,688.2 H1830.5 M1813.3,735.4 H1830.5"/>
<path d="M1831.8,678.9 V724.1 M1823.2,678.9 H1840.4 M1823.2,724.1 H1840.4"/>
<path d="M1841.7,669.9 V712.9 M1833.1,669.9 H1850.3 M1833.1,712.9 H1850.3"/>
<path d="M1851.6,661.9 V703.3 M1843,661.9 H1860.2 M1843,703.3 H1860.2"/>
<path d="M1861.6,652.6 V693.2 M1853,652.6 H1870.2 M1853,693.2 H1870.2"/>
<path d="M1871.5,640.5 V680.5 M1862.9,640.5 H1880.1 M1862.9,680.5 H1880.1"/>
<path d="M1881.4,627.6 V666.2 M1872.8,627.6 H1890 M1872.8,666.2 H1890"/>
<path d="M1891.3,614.7 V651.3 M1882.7,614.7 H1899.9 M1882.7,651.3 H1899.9"/>
<path d="M1901.3,604.6 V638.6 M1892.7,604.6 H1909.9 M1892.7,638.6 H1909.9"/>
<path d="M1911.2,597.9 V631.5 M1902.6,597.9 H1919.8 M1902.6,631.5 H1919.8"/>
</g>
<g fill="#FF0000">
<circle cx="1156.8" cy="283.8" r="4.6"/>
<circle cx="1166.7" cy="284.8" r="4.6"/>
<circle cx="1176.7" cy="285.9" r="4.6"/>
<circle cx="1186.6" cy="288" r="4.6"/>
<circle cx="1196.5" cy="290.1" r="4.6"/>
<circle cx="1206.4" cy="292.2" r="4.6"/>
<circle cx="1216.4" cy="294.7" r="4.6"/>
<circle cx="1226.3" cy="297.9" r="4.6"/>
<circle cx="1236.2" cy="300.6" r="4.6"/>
<circle cx="1246.1" cy="304.2" r="4.6"/>
<circle cx="1256.1" cy="308" r="4.6"/>
<circle cx="1266" cy="311.7" r="4.6"/>
<circle cx="1275.9" cy="316" r="4.6"/>
<circle cx="1285.8" cy="320.6" r="4.6"/>
<circle cx="1295.8" cy="325.3" r="4.6"/>
<circle cx="1305.7" cy="331.6" r="4.6"/>
<circle cx="1315.6" cy="337.7" r="4.6"/>
<circle cx="1325.5" cy="344.1" r="4.6"/>
<circle cx="1335.5" cy="351" r="4.6"/>
<circle cx="1345.4" cy="358.2" r="4.6"/>
<circle cx="1355.3" cy="366.1" r="4.6"/>
<circle cx="1365.3" cy="374.1" r="4.6"/>
<circle cx="1375.2" cy="383" r="4.6"/>
<circle cx="1385.1" cy="392.2" r="4.6"/>
<circle cx="1395" cy="401.6" r="4.6"/>
<circle cx="1405" cy="412.3" r="4.6"/>
<circle cx="1414.9" cy="422.6" r="4.6"/>
<circle cx="1424.8" cy="432.5" r="4.6"/>
<circle cx="1434.7" cy="443.4" r="4.6"/>
<circle cx="1444.7" cy="454.6" r="4.6"/>
<circle cx="1454.6" cy="468.7" r="4.6"/>
<circle cx="1464.5" cy="483.5" r="4.6"/>
<circle cx="1474.4" cy="498.7" r="4.6"/>
<circle cx="1484.4" cy="515.1" r="4.6"/>
<circle cx="1494.3" cy="531.5" r="4.6"/>
<circle cx="1504.2" cy="547.9" r="4.6"/>
<circle cx="1514.1" cy="564.7" r="4.6"/>
<circle cx="1524.1" cy="581.6" r="4.6"/>
<circle cx="1534" cy="598.4" r="4.6"/>
<circle cx="1543.9" cy="615.2" r="4.6"/>
<circle cx="1553.9" cy="631.7" r="4.6"/>
<circle cx="1563.8" cy="647.4" r="4.6"/>
<circle cx="1573.7" cy="662.3" r="4.6"/>
<circle cx="1583.6" cy="677.4" r="4.6"/>
<circle cx="1593.6" cy="690.9" r="4.6"/>
<circle cx="1603.5" cy="704.1" r="4.6"/>
<circle cx="1613.4" cy="716.1" r="4.6"/>
<circle cx="1623.3" cy="727.9" r="4.6"/>
<circle cx="1633.3" cy="737.6" r="4.6"/>
<circle cx="1643.2" cy="746.5" r="4.6"/>
<circle cx="1653.1" cy="754.2" r="4.6"/>
<circle cx="1663" cy="760.8" r="4.6"/>
<circle cx="1673" cy="766.6" r="4.6"/>
<circle cx="1682.9" cy="770.8" r="4.6"/>
<circle cx="1692.8" cy="773.6" r="4.6"/>
<circle cx="1702.7" cy="774.8" r="4.6"/>
<circle cx="1712.7" cy="774.8" r="4.6"/>
<circle cx="1722.6" cy="773.6" r="4.6"/>
<circle cx="1732.5" cy="771.7" r="4.6"/>
<circle cx="1742.5" cy="768.7" r="4.6"/>
<circle cx="1752.4" cy="764.8" r="4.6"/>
<circle cx="1762.3" cy="760.2" r="4.6"/>
<circle cx="1772.2" cy="755.1" r="4.6"/>
<circle cx="1782.2" cy="749.7" r="4.6"/>
<circle cx="1792.1" cy="743" r="4.6"/>
<circle cx="1802" cy="733.2" r="4.6"/>
<circle cx="1811.9" cy="722.4" r="4.6"/>
<circle cx="1821.9" cy="711.8" r="4.6"/>
<circle cx="1831.8" cy="701.5" r="4.6"/>
<circle cx="1841.7" cy="691.4" r="4.6"/>
<circle cx="1851.6" cy="682.6" r="4.6"/>
<circle cx="1861.6" cy="672.9" r="4.6"/>
<circle cx="1871.5" cy="660.5" r="4.6"/>
<circle cx="1881.4" cy="646.9" r="4.6"/>
<circle cx="1891.3" cy="633" r="4.6"/>
<circle cx="1901.3" cy="621.6" r="4.6"/>
<circle cx="1911.2" cy="614.7" r="4.6"/>
</g>
<g stroke="#000" stroke-width="3" stroke-dasharray="4.6 7.2" stroke-linecap="round" fill="none">
<line x1="1702.7" y1="112.9" x2="1702.7" y2="837.5"/>
<line x1="1792.1" y1="112.9" x2="1792.1" y2="837.5"/>
</g>
</g>
<g stroke="#000" stroke-width="3.3" fill="none">
<rect x="1127" y="107" width="814" height="730.5"/>
<line x1="1144.1" y1="837.5" x2="1144.1" y2="853"/>
<line x1="1250.9" y1="837.5" x2="1250.9" y2="853"/>
<line x1="1357.6" y1="837.5" x2="1357.6" y2="853"/>
<line x1="1464.4" y1="837.5" x2="1464.4" y2="853"/>
<line x1="1571.1" y1="837.5" x2="1571.1" y2="853"/>
<line x1="1677.9" y1="837.5" x2="1677.9" y2="853"/>
<line x1="1784.7" y1="837.5" x2="1784.7" y2="853"/>
<line x1="1891.4" y1="837.5" x2="1891.4" y2="853"/>
<line x1="1111.7" y1="731.4" x2="1127" y2="731.4"/>
<line x1="1111.7" y1="588.4" x2="1127" y2="588.4"/>
<line x1="1111.7" y1="445.4" x2="1127" y2="445.4"/>
<line x1="1111.7" y1="302.4" x2="1127" y2="302.4"/>
<line x1="1111.7" y1="159.4" x2="1127" y2="159.4"/>
</g>
<g font-family="'Liberation Sans', sans-serif" font-size="23.5" fill="#000" stroke="#000" stroke-width="0.5" text-anchor="middle">
<text x="1143.8" y="888.6"><tspan font-size="20" dy="-1.1">&#8722;</tspan><tspan dy="1.1">9</tspan></text>
<text x="1250.6" y="888.6"><tspan font-size="20" dy="-1.1">&#8722;</tspan><tspan dy="1.1">8</tspan></text>
<text x="1357.3" y="888.6"><tspan font-size="20" dy="-1.1">&#8722;</tspan><tspan dy="1.1">7</tspan></text>
<text x="1464.1" y="888.6"><tspan font-size="20" dy="-1.1">&#8722;</tspan><tspan dy="1.1">6</tspan></text>
<text x="1570.8" y="888.6"><tspan font-size="20" dy="-1.1">&#8722;</tspan><tspan dy="1.1">5</tspan></text>
<text x="1677.6" y="888.6"><tspan font-size="20" dy="-1.1">&#8722;</tspan><tspan dy="1.1">4</tspan></text>
<text x="1784.4" y="888.6"><tspan font-size="20" dy="-1.1">&#8722;</tspan><tspan dy="1.1">3</tspan></text>
<text x="1891.1" y="888.6"><tspan font-size="20" dy="-1.1">&#8722;</tspan><tspan dy="1.1">2</tspan></text>
<text transform="translate(1092.9,731.4) rotate(-90)">1.2</text>
<text transform="translate(1092.9,588.4) rotate(-90)">1.4</text>
<text transform="translate(1092.9,445.4) rotate(-90)">1.6</text>
<text transform="translate(1092.9,302.4) rotate(-90)">1.8</text>
<text transform="translate(1092.9,159.4) rotate(-90)">2.0</text>
<text x="1156.8" y="73.4">54</text>
<text x="1206.4" y="73.4">53</text>
<text x="1256.1" y="73.4">53</text>
<text x="1305.7" y="73.4">50</text>
<text x="1355.3" y="73.4">50</text>
<text x="1405" y="73.4">48</text>
<text x="1454.6" y="73.4">47</text>
<text x="1504.2" y="73.4">45</text>
<text x="1553.9" y="73.4">42</text>
<text x="1603.5" y="73.4">37</text>
<text x="1653.1" y="73.4">32</text>
<text x="1702.7" y="73.4">25</text>
<text x="1752.4" y="73.4">18</text>
<text x="1792.1" y="73.4">9</text>
<text x="1831.8" y="73.4">6</text>
<text x="1871.5" y="73.4">2</text>
<text x="1911.2" y="73.4">0</text>
</g>
<text x="1534.2" y="939.7" font-family="'Liberation Sans', sans-serif" font-size="23.5" text-anchor="middle" fill="#000" stroke="#000" stroke-width="0.5">Log<tspan dx="2.5" font-family="'Liberation Serif', serif" font-size="26" stroke-width="0.3">(&#955;)</tspan></text>
<text transform="translate(1036,475) rotate(-90)" font-family="'Liberation Sans', sans-serif" font-size="24" text-anchor="middle" fill="#000" stroke="#000" stroke-width="0.5">Binomial Deviance</text>
</g>
</svg>
</body></html>
